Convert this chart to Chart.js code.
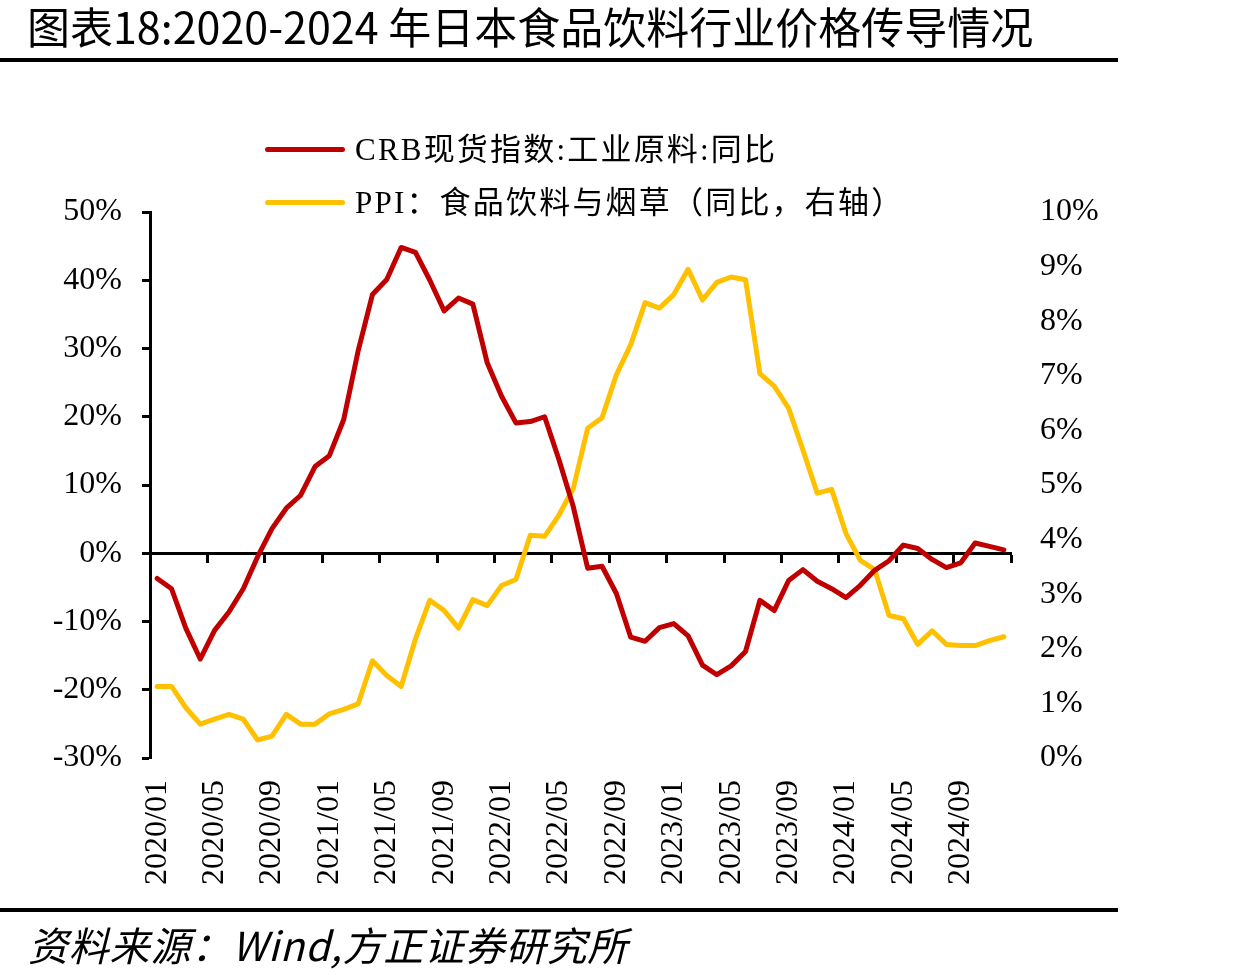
<!DOCTYPE html>
<html>
<head>
<meta charset="utf-8">
<script src="https://cdn.jsdelivr.net/npm/chart.js@4"></script>
<style>
  html, body { margin: 0; padding: 0; background: #ffffff; }
  #wrap { position: relative; width: 1246px; height: 980px; overflow: hidden; background: #fff; }
  #c { position: absolute; left: 0; top: 0; }
  .title { position: absolute; left: 27px; top: 4px; font: 400 43px "Noto Sans CJK SC", sans-serif; line-height: 43px; color: #000; white-space: nowrap; }
  .rule { position: absolute; left: 0; width: 1118px; height: 4px; background: #000; }
  .footer { position: absolute; left: 28px; top: 922px; font: italic 400 40px "Noto Sans CJK SC", sans-serif; letter-spacing: 0.8px; line-height: 44px; color: #000; white-space: nowrap; }
  .legend { position: absolute; left: 265px; top: 0; }
  .lg-item { position: absolute; left: 0; height: 40px; white-space: nowrap; }
  .lg-line { position: absolute; left: 0; width: 80px; height: 5px; border-radius: 3px; }
  .lg-text { position: absolute; left: 90px; font: 400 31px "Liberation Serif", "Noto Sans CJK SC", serif; letter-spacing: 2.2px; line-height: 40px; color: #000; }
</style>
</head>
<body>
<div id="wrap">
  <canvas id="c" width="1246" height="980"></canvas>
  <div class="title">图表18:2020-2024 年日本食品饮料行业价格传导情况</div>
  <div class="rule" style="top:58px"></div>
  <div class="legend" id="legend"></div>
  <div class="rule" style="top:908px"></div>
  <div class="footer">资料来源：Wind,方正证券研究所</div>
</div>
<script>
// ---- data ----
const categories = [
  '2020/01','2020/02','2020/03','2020/04','2020/05','2020/06','2020/07','2020/08','2020/09','2020/10','2020/11','2020/12',
  '2021/01','2021/02','2021/03','2021/04','2021/05','2021/06','2021/07','2021/08','2021/09','2021/10','2021/11','2021/12',
  '2022/01','2022/02','2022/03','2022/04','2022/05','2022/06','2022/07','2022/08','2022/09','2022/10','2022/11','2022/12',
  '2023/01','2023/02','2023/03','2023/04','2023/05','2023/06','2023/07','2023/08','2023/09','2023/10','2023/11','2023/12',
  '2024/01','2024/02','2024/03','2024/04','2024/05','2024/06','2024/07','2024/08','2024/09','2024/10','2024/11','2024/12'
];
const crbName = 'CRB现货指数:工业原料:同比';
const crbValues = [
  -3.7, -5.2, -11.0, -15.5, -11.3, -8.6, -5.2, -0.5, 3.6, 6.6,
  8.5, 12.7, 14.3, 19.6, 29.6, 37.9, 40.1, 44.8, 44.1, 40.0,
  35.5, 37.4, 36.5, 27.9, 23.0, 19.1, 19.3, 20.0, 13.7, 6.8,
  -2.2, -1.9, -5.9, -12.3, -12.9, -10.9, -10.3, -12.1, -16.4, -17.8,
  -16.5, -14.4, -6.9, -8.4, -4.0, -2.4, -4.1, -5.2, -6.5, -4.7,
  -2.5, -1.1, 1.2, 0.7, -0.9, -2.1, -1.4, 1.5, 1.0, 0.5
];
const ppiName = 'PPI：食品饮料与烟草（同比，右轴）';
const ppiValues = [
  1.31, 1.31, 0.92, 0.62, 0.71, 0.80, 0.71, 0.33, 0.40, 0.80,
  0.62, 0.62, 0.81, 0.89, 0.99, 1.78, 1.51, 1.31, 2.18, 2.89,
  2.70, 2.38, 2.90, 2.79, 3.16, 3.27, 4.08, 4.06, 4.45, 4.94,
  6.04, 6.23, 7.02, 7.57, 8.34, 8.24, 8.49, 8.95, 8.39, 8.71,
  8.81, 8.76, 7.04, 6.81, 6.41, 5.64, 4.85, 4.92, 4.11, 3.62,
  3.45, 2.61, 2.55, 2.08, 2.33, 2.08, 2.06, 2.06, 2.15, 2.22
];
const leftTicks = { min: -30, max: 50, step: 10 };
const rightTicks = { min: 0, max: 10, step: 1 };
const labelEvery = 4;

const RED = '#C00000';
const YELLOW = '#FFC000';
const axisFont = { family: "'Liberation Serif', 'Times New Roman', serif", size: 32 };

const W = 1246, H = 980;
const AREA = { left: 150, right: 1011, top: 212, bottom: 758 };

const chart = new Chart(document.getElementById('c'), {
  type: 'line',
  data: {
    labels: categories,
    datasets: [
      { label: crbName, data: crbValues, borderColor: RED, backgroundColor: RED,
        borderWidth: 5, pointRadius: 0, tension: 0, borderJoinStyle: 'round', borderCapStyle: 'round',
        xAxisID: 'x', yAxisID: 'y' },
      { label: ppiName, data: ppiValues, borderColor: YELLOW, backgroundColor: YELLOW,
        borderWidth: 5, pointRadius: 0, tension: 0, borderJoinStyle: 'round', borderCapStyle: 'round',
        xAxisID: 'x', yAxisID: 'y1' }
    ]
  },
  options: {
    responsive: false,
    animation: false,
    events: [],
    layout: { padding: { top: AREA.top, left: 0, right: 0, bottom: 0 } },
    plugins: { legend: { display: false }, title: { display: false }, tooltip: { enabled: false } },
    scales: {
      x: {
        type: 'category',
        position: 'bottom',
        offset: true,
        grid: { display: false, drawTicks: false, offset: true },
        border: { display: false },
        ticks: {
          autoSkip: false, minRotation: 90, maxRotation: 90, padding: 22,
          color: '#000', font: axisFont,
          callback: function (value, index) { return index % labelEvery === 0 ? this.getLabelForValue(value) : ''; }
        },
        afterFit: (s) => { s.height = H - AREA.bottom; }
      },
      x0: {
        type: 'category',
        axis: 'x',
        position: { y: 0 },
        offset: true,
        grid: {
          display: true, drawOnChartArea: false, drawTicks: true, offset: true,
          tickLength: 8, tickWidth: 3,
          tickColor: (ctx) => (ctx.index === undefined || ctx.index % labelEvery === 0) ? '#000' : 'rgba(0,0,0,0)'
        },
        border: { display: true, color: '#000', width: 3 },
        ticks: { display: false, autoSkip: false }
      },
      y: {
        position: 'left',
        min: leftTicks.min, max: leftTicks.max,
        grid: { drawOnChartArea: false, drawTicks: true, tickLength: 8, tickWidth: 3, tickColor: '#000' },
        border: { display: true, color: '#000', width: 3 },
        ticks: { stepSize: leftTicks.step, padding: 20, color: '#000', font: axisFont,
          callback: (v) => v + '%' },
        afterFit: (s) => { s.width = AREA.left; }
      },
      y1: {
        position: 'right',
        min: rightTicks.min, max: rightTicks.max,
        grid: { display: false, drawOnChartArea: false, drawTicks: false },
        border: { display: false },
        ticks: { stepSize: rightTicks.step, padding: 29, color: '#000', font: axisFont,
          callback: (v) => v + '%' },
        afterFit: (s) => { s.width = W - AREA.right; }
      }
    }
  }
});

// HTML legend built from the chart's datasets
const legendEl = document.getElementById('legend');
const legendY = [150, 203];
chart.data.datasets.forEach((ds, i) => {
  const item = document.createElement('div');
  item.className = 'lg-item';
  item.style.top = (legendY[i] - 20) + 'px';
  const line = document.createElement('div');
  line.className = 'lg-line';
  line.style.top = '17px';
  line.style.background = ds.borderColor;
  const txt = document.createElement('div');
  txt.className = 'lg-text';
  txt.style.top = '0px';
  txt.textContent = ds.label;
  item.appendChild(line);
  item.appendChild(txt);
  legendEl.appendChild(item);
});
</script>
</body>
</html>
